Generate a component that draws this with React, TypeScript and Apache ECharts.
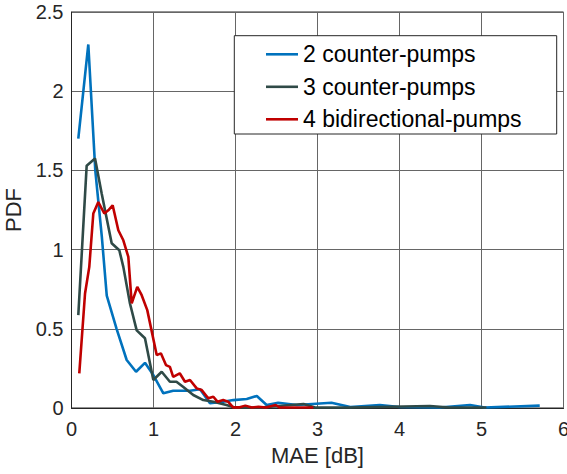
import React, { useEffect, useRef } from "react";
import * as echarts from "echarts";

const seriesNames = ["2 counter-pumps", "3 counter-pumps", "4 bidirectional-pumps"];
const seriesColors = ["#0072BD", "#2F4A47", "#C00000"];

const blue: [number, number][] = [
  [0.083, 1.70], [0.205, 2.295], [0.29, 1.50], [0.37, 1.08], [0.43, 0.71],
  [0.55, 0.50], [0.673, 0.303], [0.787, 0.229], [0.896, 0.285], [0.998, 0.208],
  [1.12, 0.093], [1.24, 0.109], [1.445, 0.109], [1.567, 0.118], [1.689, 0.03],
  [1.85, 0.04], [1.973, 0.05], [2.137, 0.057], [2.26, 0.076], [2.38, 0.019],
  [2.52, 0.033], [2.75, 0.019], [3.17, 0.033], [3.4, 0.006], [3.76, 0.019],
  [4.0, 0.006], [4.49, 0.003], [4.86, 0.019], [5.04, 0.003], [5.71, 0.015],
];

const gray: [number, number][] = [
  [0.083, 0.586], [0.185, 1.53], [0.287, 1.575], [0.368, 1.354], [0.49, 1.04],
  [0.583, 0.996], [0.632, 0.891], [0.713, 0.66], [0.795, 0.49], [0.896, 0.44],
  [0.998, 0.177], [1.10, 0.229], [1.20, 0.166], [1.28, 0.166], [1.36, 0.134],
  [1.485, 0.082], [1.607, 0.05], [1.73, 0.04], [1.89, 0.019], [1.99, 0.003],
  [2.30, 0.003], [2.83, 0.025], [2.97, 0.003], [3.40, 0.003], [4.37, 0.013],
  [4.61, 0.003], [5.06, 0.003],
];

const red: [number, number][] = [
  [0.095, 0.219], [0.165, 0.723], [0.217, 0.891], [0.266, 1.228], [0.327, 1.30],
  [0.40, 1.228], [0.449, 1.248], [0.502, 1.28], [0.571, 1.122], [0.632, 1.059],
  [0.693, 0.954], [0.734, 0.66], [0.802, 0.765], [0.856, 0.712], [0.924, 0.618],
  [1.039, 0.334], [1.09, 0.345], [1.152, 0.271], [1.20, 0.26], [1.24, 0.197],
  [1.32, 0.219], [1.384, 0.166], [1.445, 0.177], [1.527, 0.124], [1.588, 0.113],
  [1.668, 0.061], [1.73, 0.071], [1.78, 0.04], [1.85, 0.05], [1.91, 0.04],
  [1.97, 0.004], [2.05, 0.004], [2.12, 0.015], [2.20, 0.003], [2.28, 0.008],
  [2.37, 0.003], [2.49, 0.019], [2.54, 0.003], [2.95, 0.003],
];

const seriesData = [blue, gray, red];

const FONT = "'Liberation Sans', Arial, Helvetica, sans-serif";

export default function App() {
  const ref = useRef<HTMLDivElement>(null);
  useEffect(() => {
    if (!ref.current) return;
    const chart = echarts.init(ref.current, null, { renderer: "svg" });
    chart.setOption({
      animation: false,
      backgroundColor: "#ffffff",
      grid: {
        left: 71.5,
        right: 3.5,
        top: 12,
        bottom: 66,
        containLabel: false,
        outerBoundsMode: "none",
        show: true,
        borderColor: "#262626",
        borderWidth: 1,
        backgroundColor: "transparent",
      },
      xAxis: {
        type: "value",
        min: 0,
        max: 6,
        interval: 1,
        name: "MAE [dB]",
        nameLocation: "middle",
        nameGap: 36,
        nameTextStyle: { fontFamily: FONT, fontSize: 22, color: "#262626" },
        axisLine: { show: true, onZero: false, lineStyle: { color: "#262626", width: 1 } },
        axisTick: { show: false },
        axisLabel: { fontFamily: FONT, fontSize: 20, color: "#262626", margin: 11 },
        splitLine: { show: true, lineStyle: { color: "#666666", width: 1 } },
      },
      yAxis: {
        type: "value",
        min: 0,
        max: 2.5,
        interval: 0.5,
        name: "PDF",
        nameLocation: "middle",
        nameGap: 43,
        nameTextStyle: { fontFamily: FONT, fontSize: 22, color: "#262626" },
        axisLine: { show: true, lineStyle: { color: "#262626", width: 1 } },
        axisTick: { show: false },
        axisLabel: { fontFamily: FONT, fontSize: 20, color: "#262626", margin: 8 },
        splitLine: { show: true, lineStyle: { color: "#666666", width: 1 } },
      },
      legend: {
        orient: "vertical",
        left: 266,
        top: 42.8,
        padding: 0,
        z: 200,
        itemWidth: 32,
        itemHeight: 14,
        itemGap: 9.5,
        icon: "path://M0,6 L32,6 L32,8.6 L0,8.6 Z",
        textStyle: { fontFamily: FONT, fontSize: 23, color: "#000000", lineHeight: 23 },
        data: seriesNames,
      },
      graphic: [
        {
          type: "rect",
          z: 50,
          shape: { x: 234.3, y: 35.7, width: 322.4, height: 98.3 },
          style: { fill: "#ffffff", stroke: "#262626", lineWidth: 1 },
        },
      ],
      series: seriesData.map((d, i) => ({
        name: seriesNames[i],
        type: "line",
        data: d,
        symbol: "none",
        color: seriesColors[i],
        lineStyle: { color: seriesColors[i], width: 2.6 },
        z: 2 + i,
      })),
    });
    return () => chart.dispose();
  }, []);
  return <div ref={ref} style={{ width: 567, height: 474, position: "absolute", left: 0, top: 0 }} />;
}
